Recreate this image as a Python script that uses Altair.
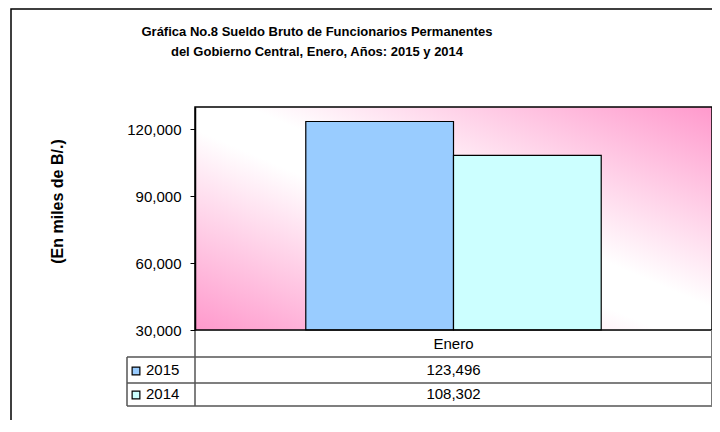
import altair as alt
import pandas as pd

# ---- data ----
categories = ["Enero"]
years = ["2015", "2014"]
values = [123496, 108302]
bar_colors = ["#99ccff", "#ccffff"]
y_ticks = [30000, 60000, 90000, 120000]
y_domain = [30000, 130000]
title_lines = ["Gráfica No.8 Sueldo Bruto de Funcionarios Permanentes",
               "del Gobierno Central, Enero, Años: 2015 y 2014"]
y_title = "(En miles de B/.)"

# ---- layout ----
W, H = 517, 223
FONT = "Liberation Sans"
LINE = "#555555"
TABLE_LEFT = -68
ROW_LINES = [H + 27, H + 53, H + 76]
ROW_CENTERS = [H + 40, H + 64]
HEADER_CENTER = H + 14
TITLE_X = 122
TITLE_Y = [-75, -55]

df = pd.DataFrame({"mes": categories * len(years), "year": years, "value": values})
one = pd.DataFrame({"k": [0]})

color_scale = alt.Scale(domain=years, range=bar_colors)
x_scale = alt.Scale(paddingInner=0, paddingOuter=0.375)

frame = alt.Chart(one).mark_rect(fillOpacity=0, stroke="#000000", strokeWidth=1.5).encode(
    x=alt.value(-184), x2=alt.value(W + 100), y=alt.value(-98), y2=alt.value(H + 200))

bg = alt.Chart(one).mark_rect(
    fill=alt.Gradient(
        gradient="linear",
        stops=[alt.GradientStop(color="#ff99cc", offset=0),
               alt.GradientStop(color="#ffffff", offset=0.45),
               alt.GradientStop(color="#ffffff", offset=0.55),
               alt.GradientStop(color="#ff99cc", offset=1)],
        x1=0, y1=1, x2=1, y2=0)
).encode(x=alt.value(0), x2=alt.value(W), y=alt.value(0), y2=alt.value(H))

border = alt.Chart(one).mark_rect(fillOpacity=0, stroke="#000000", strokeWidth=1.5).encode(
    x=alt.value(0), x2=alt.value(W), y=alt.value(0), y2=alt.value(H))

bars = alt.Chart(df).mark_bar(stroke="#000000", strokeWidth=1.2).encode(
    x=alt.X("mes:N", scale=x_scale, axis=None),
    xOffset=alt.XOffset("year:N", sort=years, scale=alt.Scale(paddingInner=0, paddingOuter=0)),
    y=alt.Y("value:Q", scale=alt.Scale(domain=y_domain, nice=False, zero=False),
            axis=alt.Axis(values=y_ticks, format=",.0f", title=y_title, grid=False, zindex=1,
                          domainColor="#000000", domainWidth=1.5, tickColor="#000000", tickSize=5,
                          labelPadding=9, labelFont=FONT, labelFontSize=15, labelColor="#000000",
                          titleFont=FONT, titleFontSize=16, titleFontWeight="bold",
                          titleColor="#000000", titleX=-138, titleY=94, titleAngle=270,
                          titleAlign="center", titleBaseline="middle")),
    y2=alt.datum(y_domain[0]),
    color=alt.Color("year:N", scale=color_scale, legend=None),
)

# table lines
hlines = [alt.Chart(one).mark_rule(color=LINE, strokeWidth=1.5).encode(
    x=alt.value(TABLE_LEFT), x2=alt.value(W), y=alt.value(yy)) for yy in ROW_LINES]
vlines = [
    alt.Chart(one).mark_rule(color=LINE, strokeWidth=1.5).encode(
        x=alt.value(TABLE_LEFT), y=alt.value(ROW_LINES[0]), y2=alt.value(ROW_LINES[-1])),
    alt.Chart(one).mark_rule(color=LINE, strokeWidth=1.5).encode(
        x=alt.value(0), y=alt.value(H), y2=alt.value(ROW_LINES[-1])),
    alt.Chart(one).mark_rule(color="#777777", strokeWidth=2).encode(
        x=alt.value(W), y=alt.value(H), y2=alt.value(ROW_LINES[-1])),
]

header = alt.Chart(pd.DataFrame({"mes": categories})).mark_text(
    font=FONT, fontSize=15, color="#000000", baseline="middle").encode(
    x=alt.X("mes:N", scale=x_scale, axis=None), y=alt.value(HEADER_CENTER), text="mes:N")

rows = []
for i, yr in enumerate(years):
    sub = alt.Chart(df).transform_filter(alt.datum.year == yr)
    rows.append(sub.mark_text(font=FONT, fontSize=15, color="#000000", baseline="middle").encode(
        x=alt.X("mes:N", scale=x_scale, axis=None), y=alt.value(ROW_CENTERS[i]),
        text=alt.Text("value:Q", format=",")))
    rows.append(sub.mark_text(font=FONT, fontSize=15, color="#000000", baseline="middle",
                              align="left").encode(
        x=alt.value(-49), y=alt.value(ROW_CENTERS[i]), text="year:N"))
    rows.append(sub.mark_square(size=60, stroke="#000000", strokeWidth=1.2, opacity=1).encode(
        x=alt.value(-59), y=alt.value(ROW_CENTERS[i] + 1),
        color=alt.Color("year:N", scale=color_scale, legend=None)))

titles = [alt.Chart(pd.DataFrame({"t": [line]})).mark_text(
    font=FONT, fontSize=13, fontWeight="bold", color="#000000", baseline="middle",
    align="center").encode(x=alt.value(TITLE_X), y=alt.value(TITLE_Y[i]), text="t:N")
    for i, line in enumerate(title_lines)]

chart = alt.layer(frame, bg, bars, border, *hlines, *vlines, header, *rows, *titles).properties(
    width=W, height=H,
    autosize=alt.AutoSizeParams(type="none"),
    padding={"left": 187, "top": 99, "right": 0, "bottom": 90},
).configure_view(stroke="#000000", strokeWidth=1.5).configure(background="#ffffff")

chart.save("out.html", embed_options={"renderer": "svg", "actions": False})
